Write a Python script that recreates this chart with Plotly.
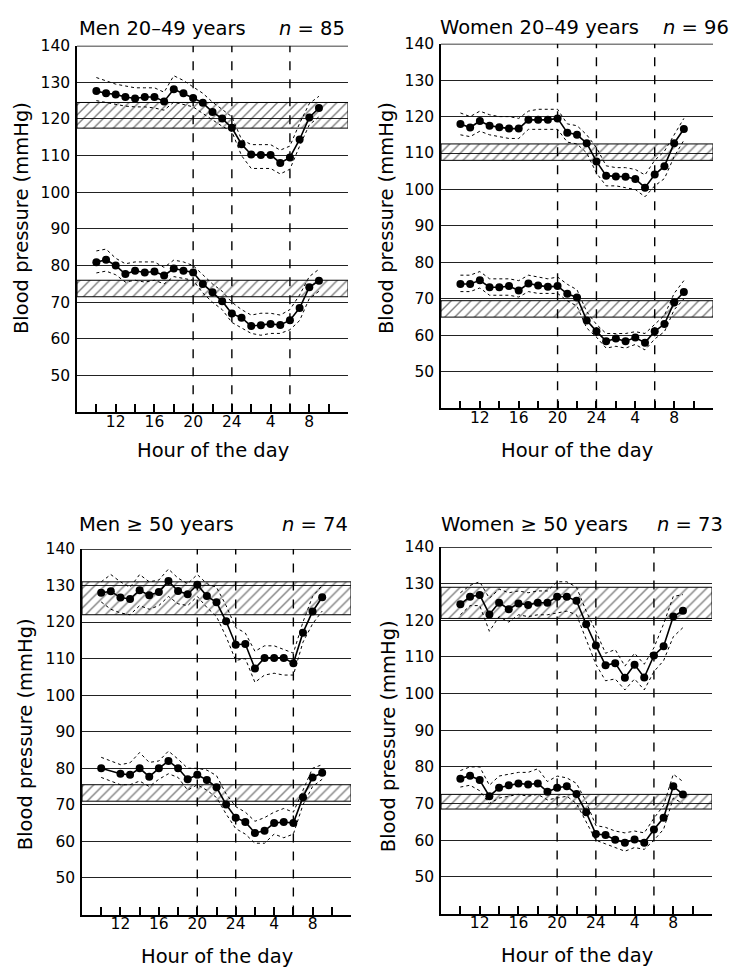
import plotly.graph_objects as go

# ---------------- data ----------------
hours = list(range(10, 34))            # 10:00 .. 09:00 next day (24+h)
x_range = [8, 36]
y_range = [40, 140]
tick_vals = list(range(10, 35, 2))
tick_text = ["", "12", "", "16", "", "20", "", "24", "", "4", "", "8", ""]
y_ticks = [50, 60, 70, 80, 90, 100, 110, 120, 130, 140]
night_marks = [20, 24, 30]

titles = ["Men 20–49 years", "Women 20–49 years", "Men ≥ 50 years", "Women ≥ 50 years"]
n_labels = ["<i>n</i> = 85", "<i>n</i> = 96", "<i>n</i> = 74", "<i>n</i> = 73"]

# Men 20-49
m1_sys = [127.6, 127, 126.7, 126, 125.6, 126, 126, 124.8, 128.1, 127, 125.7, 124.4, 121.9, 120.1, 117.6, 113.1, 110.3, 110.2, 110.2, 108, 109.5, 114.4, 120.4, 123]
m1_sys_hi = [131.3, 130.5, 129.5, 129, 128.5, 128.5, 128.5, 127.3, 131.8, 130.5, 128.7, 127, 124.6, 122.5, 120.6, 114.4, 113, 113, 113, 111.5, 112.6, 118.8, 124.2, 126.2]
m1_sys_lo = [125, 124.5, 124, 123.5, 123.3, 123.3, 123, 122.4, 124.6, 124, 123.3, 121.5, 119.7, 118, 116.6, 110, 106.5, 106.5, 106.5, 105, 106.3, 112.6, 118.4, 120.6]
m1_dia = [80.9, 81.6, 80, 77.7, 78.6, 78.1, 78.4, 77.3, 79.2, 78.6, 78.1, 75, 72.7, 70.3, 66.9, 65.8, 63.5, 63.7, 64.1, 63.8, 65.1, 68.4, 74.1, 75.9]
m1_dia_hi = [84, 84.5, 82, 80.5, 81, 81, 81, 79.5, 81.5, 81, 80, 77.5, 75, 73, 70, 68, 66.5, 67, 67, 66.5, 68, 72, 77, 79]
m1_dia_lo = [78, 78.5, 77.5, 75.5, 76, 75.5, 76, 75, 77, 76.5, 76, 72.5, 70, 68, 64.5, 63, 61.5, 61, 61.5, 61.5, 62.5, 65, 71, 73]
m1_sys_band = [117.5, 124.5]
m1_dia_band = [71.5, 76]

# Women 20-49
w1_sys = [118, 117, 118.8, 117.5, 117.1, 116.7, 116.7, 119.1, 119.1, 119.1, 119.5, 115.6, 115, 112.7, 107.7, 103.8, 103.6, 103.5, 102.9, 100.5, 104.1, 106.4, 112.7, 116.6]
w1_sys_hi = [121, 120, 121.5, 120.5, 120, 120, 119.5, 121.5, 122, 122, 122, 118, 117.5, 115, 111.5, 106.5, 106, 106, 105.5, 104, 108, 110.5, 115, 119.5]
w1_sys_lo = [115, 114.5, 116, 115, 114.5, 114, 114, 116.5, 116.5, 116.5, 116.5, 113, 112.5, 110, 104.5, 101, 101, 100.5, 100, 98, 101, 103, 109, 113.5]
w1_dia = [74.1, 74.1, 75.1, 73.2, 73.2, 73.5, 72.3, 74.2, 73.7, 73.3, 73.5, 71.4, 70.4, 64.1, 61.1, 58.4, 59.1, 58.4, 59.4, 58, 61.1, 63.1, 69, 71.9]
w1_dia_hi = [76.5, 76.5, 77.5, 75.5, 75.5, 75.5, 75, 76.5, 76, 75.5, 76, 74, 72.5, 66.5, 63, 60.5, 60.5, 60.5, 61, 60.5, 63, 65.5, 71.5, 75]
w1_dia_lo = [72, 72, 73, 71, 71, 71, 70.5, 72, 71.5, 71.5, 71.5, 69.5, 68, 62, 59.5, 56.5, 57, 56.5, 57.5, 56, 59, 61, 67, 70]
w1_sys_band = [108, 112.5]
w1_dia_band = [65, 69.5]

# Men >= 50
m2_sys = [128, 128.4, 126.7, 126.3, 128.7, 127.3, 128.2, 131.2, 128.5, 127.6, 130.2, 127.1, 125.4, 120.2, 113.8, 114, 107.3, 110.2, 110.2, 110.2, 108.7, 117.1, 122.9, 126.8]
m2_sys_hi = [131, 133, 131, 129.5, 133, 131, 131.5, 134.5, 132, 130.5, 133, 130.5, 129.5, 124.5, 118.5, 117, 112, 113.5, 113.5, 112.5, 111.5, 120, 127, 130]
m2_sys_lo = [125.5, 123.5, 122.5, 122, 124.5, 123.5, 124.5, 127, 125, 124.5, 127, 124, 121.5, 116, 109.5, 110, 103.5, 105.5, 106, 105.5, 105.5, 114.5, 119.5, 123]
m2_dia = [80, None, 78.5, 78.2, 80, 77.7, 80, 82, 80, 77, 78.2, 76.8, 74.8, 70.1, 66.5, 65.3, 62.3, 62.9, 65, 65.3, 65, 72.1, 77.5, 78.8]
m2_dia_hi = [83, 82, 81, 81.5, 84.3, 81.6, 82, 84.7, 82.5, 80, 80, 79.5, 78, 73, 69.5, 68, 65.5, 66.5, 68, 69, 68, 74, 80, 81]
m2_dia_lo = [77.5, 76.5, 75.5, 75.5, 76.5, 75, 77, 78.5, 77.5, 74, 75.5, 74, 72, 67.5, 63.5, 62, 59.5, 59.5, 62, 61, 62, 70, 75, 77]
m2_sys_band = [122, 131]
m2_dia_band = [71, 75.5]

# Women >= 50
w2_sys = [124.4, 126.4, 126.9, 121.6, 124.8, 123, 124.6, 124.2, 124.8, 124.8, 126.4, 126.4, 125.3, 118.9, 113.1, 107.7, 108.3, 104.3, 107.9, 104.4, 110.4, 112.9, 121, 122.6]
w2_sys_hi = [127.5, 129.5, 130.5, 126, 128.5, 127.5, 128, 127.5, 128, 128, 130.5, 130.5, 129, 122.5, 117, 111, 112, 107.5, 111, 108, 112.5, 119, 126.5, 127]
w2_sys_lo = [121.5, 124, 124, 117, 121, 119.5, 121.5, 121, 121.5, 121.5, 122, 122.5, 121.5, 115, 108, 103.5, 104, 101, 104, 101, 106, 109, 115.5, 118]
w2_dia = [76.8, 77.6, 76.4, 72, 74.3, 75, 75.5, 75.2, 75.5, 73.2, 74.3, 74.7, 72.6, 67.6, 61.7, 61.4, 60.1, 59.3, 60.2, 59.3, 62.9, 66.1, 74.7, 72.5]
w2_dia_hi = [79, 80, 80, 75, 77.5, 78, 78.5, 78.5, 79.5, 76, 77.5, 77, 75.5, 70.5, 64, 63.5, 62.5, 62, 62.5, 62, 66, 69.5, 78, 76]
w2_dia_lo = [74.5, 75, 73.5, 70, 71.5, 72, 72.5, 72, 72.5, 71, 71.5, 72, 70, 65, 60, 59, 58, 57, 58, 57.5, 60, 63, 71.5, 70]
w2_sys_band = [120.5, 129]
w2_dia_band = [68.5, 72.5]

panels = [
    (m1_sys, m1_sys_hi, m1_sys_lo, m1_dia, m1_dia_hi, m1_dia_lo, m1_sys_band, m1_dia_band),
    (w1_sys, w1_sys_hi, w1_sys_lo, w1_dia, w1_dia_hi, w1_dia_lo, w1_sys_band, w1_dia_band),
    (m2_sys, m2_sys_hi, m2_sys_lo, m2_dia, m2_dia_hi, m2_dia_lo, m2_sys_band, m2_dia_band),
    (w2_sys, w2_sys_hi, w2_sys_lo, w2_dia, w2_dia_hi, w2_dia_lo, w2_sys_band, w2_dia_band),
]

# ---------------- layout (pixel geometry) ----------------
W, H = 735, 969
FONT = "DejaVu Sans"
# plot areas in pixels: left, right, top, bottom
boxes = [(77, 348, 37, 407), (441, 713, 35, 403), (82, 351, 545, 914), (441, 712, 543, 913)]
title_pos = [(77, 347, 20), (438, 731, 19), (77, 350, 520), (439, 725, 520)]
ylab_pos = [(21, 211), (386, 211), (25, 732), (388, 734)]
xlab_pos = [(213, 446), (577, 446), (217, 956), (577, 955)]

def px(x):
    return x / W

def py(y):
    return 1 - y / H

fig = go.Figure()
layout = dict(
    width=W, height=H, margin=dict(l=0, r=0, t=0, b=0),
    paper_bgcolor="white", plot_bgcolor="white", showlegend=False,
    font=dict(family=FONT, color="black"),
)
annotations = []
shapes = []

for i, (box, data) in enumerate(zip(boxes, panels)):
    k = "" if i == 0 else str(i + 1)
    xa, ya = "x" + k, "y" + k
    l, r, t, b = box
    layout["xaxis" + k] = dict(
        domain=[px(l), px(r)], range=x_range, anchor=ya,
        showgrid=False, zeroline=False,
        showline=True, linecolor="black", linewidth=1.5,
        tickmode="array", tickvals=tick_vals, ticktext=tick_text,
        ticks="inside", ticklen=8, tickwidth=1.5, tickcolor="black",
        tickfont=dict(size=15.5, family=FONT, color="black"),
        ticklabelstandoff=-6, fixedrange=True,
    )
    layout["yaxis" + k] = dict(
        domain=[py(b), py(t)], range=y_range, anchor=xa,
        showgrid=True, gridcolor="#222", gridwidth=1.1, zeroline=False,
        showline=True, linecolor="black", linewidth=1.5,
        tickmode="array", tickvals=y_ticks, ticks="",
        tickfont=dict(size=15.5, family=FONT, color="black"),
        ticklabelstandoff=2, fixedrange=True,
    )
    sys_m, sys_hi, sys_lo, dia_m, dia_hi, dia_lo, sband, dband = data

    # hatched reference bands
    for band in (sband, dband):
        fig.add_trace(go.Scatter(
            x=[x_range[0], x_range[1], x_range[1], x_range[0], x_range[0]],
            y=[band[0], band[0], band[1], band[1], band[0]],
            xaxis=xa, yaxis=ya, mode="lines", fill="toself",
            fillcolor="rgba(0,0,0,0)",
            fillpattern=dict(shape="/", fgcolor="black", bgcolor="rgba(0,0,0,0)",
                             size=7, solidity=0.2),
            line=dict(color="black", width=1), hoverinfo="skip",
        ))

    # night-time dashed verticals
    for v in night_marks:
        shapes.append(dict(type="line", xref=xa, yref=ya, x0=v, x1=v,
                           y0=y_range[0], y1=y_range[1],
                           line=dict(color="black", width=1.4, dash="dash"),
                           layer="above"))
    # top border line at 140
    shapes.append(dict(type="line", xref=xa, yref=ya, x0=x_range[0], x1=x_range[1],
                       y0=y_range[1], y1=y_range[1],
                       line=dict(color="black", width=1.5), layer="above"))

    for m, hi, lo in ((sys_m, sys_hi, sys_lo), (dia_m, dia_hi, dia_lo)):
        for ci in (hi, lo):
            fig.add_trace(go.Scatter(
                x=hours, y=ci, xaxis=xa, yaxis=ya, mode="lines",
                line=dict(color="black", width=1, dash="dot"), hoverinfo="skip",
            ))
        fig.add_trace(go.Scatter(
            x=hours, y=m, xaxis=xa, yaxis=ya, mode="lines+markers",
            connectgaps=True,
            line=dict(color="black", width=1.6),
            marker=dict(color="black", size=8),
        ))

    # texts
    tl, tr, ty = title_pos[i]
    annotations.append(dict(text=titles[i], xref="paper", yref="paper",
                            x=px(tl), y=py(ty), xanchor="left", yanchor="middle",
                            showarrow=False, font=dict(size=19.5, family=FONT)))
    annotations.append(dict(text=n_labels[i], xref="paper", yref="paper",
                            x=px(tr), y=py(ty), xanchor="right", yanchor="middle",
                            showarrow=False, font=dict(size=19.5, family=FONT)))
    yx, yy = ylab_pos[i]
    annotations.append(dict(text="Blood pressure (mmHg)", xref="paper", yref="paper",
                            x=px(yx), y=py(yy), xanchor="center", yanchor="middle",
                            textangle=-90, showarrow=False,
                            font=dict(size=19.5, family=FONT)))
    xx, xy = xlab_pos[i]
    annotations.append(dict(text="Hour of the day", xref="paper", yref="paper",
                            x=px(xx), y=py(xy), xanchor="center", yanchor="middle",
                            showarrow=False, font=dict(size=19.5, family=FONT)))

layout["annotations"] = annotations
layout["shapes"] = shapes
fig.update_layout(**layout)
fig.write_html("out.html", config={"displayModeBar": False},
               post_script="document.body.style.margin='0px';")
